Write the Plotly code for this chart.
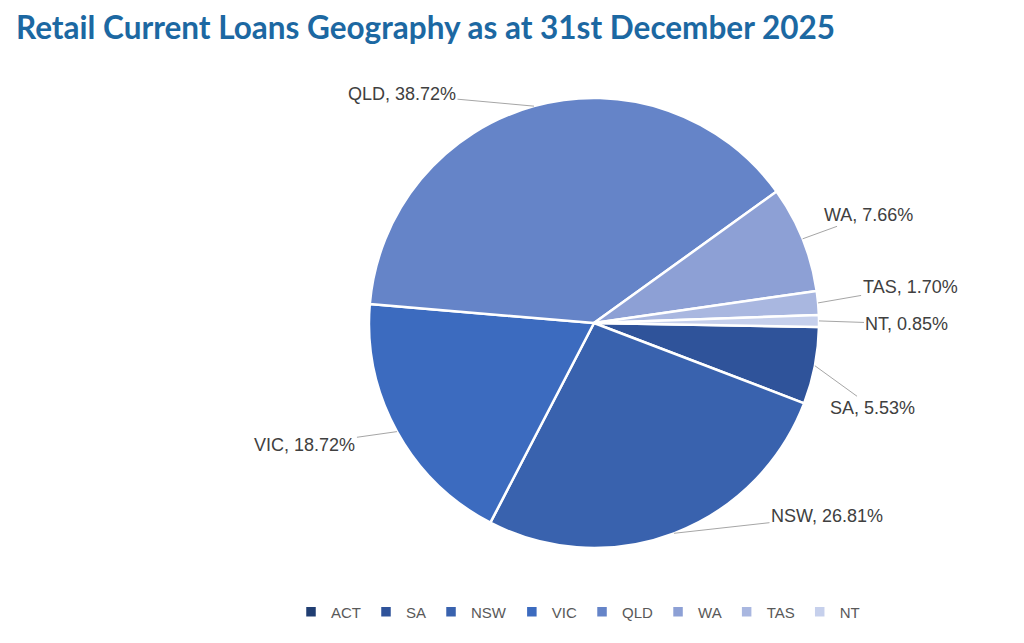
import math
import plotly.graph_objects as go

# ---- data ----
labels = ["ACT", "SA", "NSW", "VIC", "QLD", "WA", "TAS", "NT"]
values = [0.0, 5.53, 26.81, 18.72, 38.72, 7.66, 1.70, 0.85]
colors = ["#203E72", "#2F539A", "#3962AE", "#3C6BBF", "#6584C8", "#8DA0D5", "#A9B7E0", "#C6D0EC"]
title_text = "Retail Current Loans Geography as at 31st December 2025"

# label offsets (pixels, relative to slice edge point) – layout only
label_offsets = {
    "SA": (58, 42), "NSW": (153, -17), "VIC": (-92, 13), "QLD": (-132, -12),
    "WA": (66, -24), "TAS": (92, -16), "NT": (88, 3),
}

W, H = 1024, 643
CX, CY, R = 594, 323, 225          # pie centre / radius in pixels
ROT = 91                            # first slice angle (clockwise from 12 o'clock)

fig = go.Figure(go.Pie(
    labels=labels, values=values, sort=False, direction="clockwise", rotation=ROT,
    marker=dict(colors=colors, line=dict(color="white", width=2.5)),
    textinfo="none", hoverinfo="label+percent",
    domain=dict(x=[(CX - R) / W, (CX + R) / W], y=[1 - (CY + R) / H, 1 - (CY - R) / H]),
    showlegend=True,
))

# data labels with leader lines, positioned from slice mid-angles
total = sum(values)
cum = 0.0
annotations = []
for lab, v in zip(labels, values):
    start = cum
    cum += v
    if v <= 0:
        continue
    mid = ROT + (start + v / 2) / total * 360
    a = math.radians(mid)
    px = CX + R * math.sin(a)
    py = CY - R * math.cos(a)
    ox, oy = label_offsets[lab]
    annotations.append(dict(
        x=px / W, y=1 - py / H, xref="paper", yref="paper",
        text=f"{lab}, {v:.2f}%", showarrow=True, arrowhead=0, arrowwidth=1,
        arrowcolor="#A6A6A6", ax=ox, ay=oy, axref="pixel", ayref="pixel",
        font=dict(family="Liberation Sans, Arial, sans-serif", size=18, color="#404040"),
        standoff=0, borderpad=1,
    ))

annotations.append(dict(
    x=14 / W, y=1 - 6 / H, xref="paper", yref="paper", xanchor="left", yanchor="top",
    text=f"<b>{title_text}</b>", showarrow=False,
    font=dict(family="Lato, Open Sans, sans-serif", size=31.5, color="#1C68A2"),
))

fig.update_layout(
    width=W, height=H, margin=dict(l=0, r=0, t=0, b=0),
    paper_bgcolor="white", plot_bgcolor="white",
    annotations=annotations,
    legend=dict(orientation="h", x=578 / W, xanchor="center", y=1 - 612 / H, yanchor="middle",
                font=dict(family="Liberation Sans, Arial, sans-serif", size=15, color="#595959"),
                itemwidth=30, traceorder="normal"),
)

fig.write_html("out.html")
